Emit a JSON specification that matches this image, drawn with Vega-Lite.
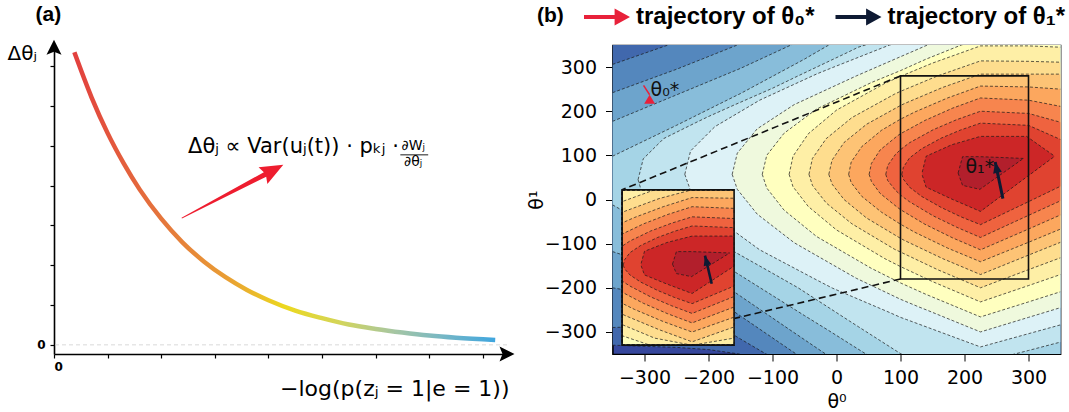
{
  "$schema": "https://vega.github.io/schema/vega-lite/v6.json",
  "background": "white",
  "padding": {"left": 7, "top": 3, "right": 2, "bottom": 2},
  "autosize": {"type": "pad"},
  "bounds": "flush",
  "spacing": 105.5,
  "config": {
    "view": {"stroke": null},
    "axis": {"grid": false, "domainColor": "black", "tickColor": "black", "labelColor": "black", "titleColor": "black", "labelFont": "DejaVu Sans", "titleFont": "DejaVu Sans"},
    "title": {"color": "black"}
  },
  "datasets": {
    "curve": [
      {"x": 0.38, "y": 7.35}, {"x": 0.7, "y": 6.22}, {"x": 1.0, "y": 5.32}, {"x": 1.3, "y": 4.56},
      {"x": 1.6, "y": 3.90}, {"x": 2.0, "y": 3.17}, {"x": 2.4, "y": 2.57}, {"x": 2.8, "y": 2.09},
      {"x": 3.2, "y": 1.70}, {"x": 3.6, "y": 1.38}, {"x": 4.0, "y": 1.12}, {"x": 4.5, "y": 0.86},
      {"x": 5.0, "y": 0.67}, {"x": 5.5, "y": 0.51}, {"x": 6.0, "y": 0.40}, {"x": 6.5, "y": 0.31},
      {"x": 7.0, "y": 0.235}, {"x": 7.5, "y": 0.18}, {"x": 8.23, "y": 0.124}
    ],
    "traj1": [{"x": 260, "y": 2}, {"x": 254, "y": 44}, {"x": 248, "y": 85}],
    "bands": [
      {"k": "L01", "x": -350, "lo": -330, "hi": 600},
      {"k": "L01", "x": -250, "lo": -335, "hi": 600},
      {"k": "L01", "x": -200, "lo": -340, "hi": 600},
      {"k": "L01", "x": -152, "lo": -350, "hi": 600},
      {"k": "L01", "x": -100, "lo": -380, "hi": 600},
      {"k": "L01", "x": 350, "lo": -500, "hi": 600},
      {"k": "L02", "x": -350, "lo": -290, "hi": 306},
      {"k": "L02", "x": -263, "lo": -286, "hi": 350},
      {"k": "L02", "x": -250, "lo": -285, "hi": 357},
      {"k": "L02", "x": -180, "lo": -290, "hi": 394},
      {"k": "L02", "x": -150, "lo": -316, "hi": 410},
      {"k": "L02", "x": -110, "lo": -350, "hi": 420},
      {"k": "L02", "x": 0, "lo": -430, "hi": 449},
      {"k": "L02", "x": 350, "lo": -500, "hi": 540},
      {"k": "L03", "x": -350, "lo": -200, "hi": 242},
      {"k": "L03", "x": -250, "lo": -225, "hi": 295},
      {"k": "L03", "x": -160, "lo": -254, "hi": 347},
      {"k": "L03", "x": -155, "lo": -259, "hi": 350},
      {"k": "L03", "x": -63, "lo": -350, "hi": 397.5},
      {"k": "L03", "x": 0, "lo": -389, "hi": 430},
      {"k": "L03", "x": 50, "lo": -420, "hi": 443},
      {"k": "L03", "x": 350, "lo": -500, "hi": 520},
      {"k": "L04", "x": -350, "lo": -118, "hi": 177},
      {"k": "L04", "x": -250, "lo": -165, "hi": 237},
      {"k": "L04", "x": -160, "lo": -209, "hi": 291},
      {"k": "L04", "x": -150, "lo": -219, "hi": 297},
      {"k": "L04", "x": -71, "lo": -297, "hi": 350},
      {"k": "L04", "x": -17, "lo": -350, "hi": 388},
      {"k": "L04", "x": 0, "lo": -360, "hi": 400},
      {"k": "L04", "x": 100, "lo": -420, "hi": 429},
      {"k": "L04", "x": 350, "lo": -480, "hi": 500},
      {"k": "L05", "x": -350, "lo": -12, "hi": 98},
      {"k": "L05", "x": -250, "lo": -95, "hi": 168},
      {"k": "L05", "x": -160, "lo": -163, "hi": 233},
      {"k": "L05", "x": -150, "lo": -172, "hi": 240},
      {"k": "L05", "x": -50, "lo": -263, "hi": 318},
      {"k": "L05", "x": -12, "lo": -297, "hi": 350},
      {"k": "L05", "x": 46, "lo": -350, "hi": 386},
      {"k": "L05", "x": 100, "lo": -386, "hi": 420},
      {"k": "L05", "x": 150, "lo": -420, "hi": 440},
      {"k": "L05", "x": 350, "lo": -450, "hi": 520},
      {"k": "L06", "x": -310, "lo": 45, "hi": 45},
      {"k": "L06", "x": -302, "lo": 5, "hi": 92},
      {"k": "L06", "x": -270, "lo": -45, "hi": 138},
      {"k": "L06", "x": -220, "lo": -85, "hi": 174},
      {"k": "L06", "x": -200, "lo": -96, "hi": 188},
      {"k": "L06", "x": -160, "lo": -118, "hi": 214},
      {"k": "L06", "x": -100, "lo": -167, "hi": 252},
      {"k": "L06", "x": -60, "lo": -200, "hi": 280},
      {"k": "L06", "x": 20, "lo": -275, "hi": 335},
      {"k": "L06", "x": 34, "lo": -288, "hi": 345},
      {"k": "L06", "x": 101, "lo": -350, "hi": 375},
      {"k": "L06", "x": 160, "lo": -366, "hi": 402},
      {"k": "L06", "x": 200, "lo": -370, "hi": 420},
      {"k": "L06", "x": 220, "lo": -372, "hi": 423},
      {"k": "L06", "x": 300, "lo": -342, "hi": 433},
      {"k": "L06", "x": 350, "lo": -323, "hi": 440},
      {"k": "L07", "x": -237, "lo": 57, "hi": 57},
      {"k": "L07", "x": -228, "lo": 20, "hi": 110},
      {"k": "L07", "x": -190, "lo": -40, "hi": 165},
      {"k": "L07", "x": -120, "lo": -114, "hi": 225},
      {"k": "L07", "x": -30, "lo": -183, "hi": 285},
      {"k": "L07", "x": -6, "lo": -201, "hi": 299},
      {"k": "L07", "x": 83, "lo": -256, "hi": 350},
      {"k": "L07", "x": 100, "lo": -267, "hi": 356},
      {"k": "L07", "x": 109.5, "lo": -272, "hi": 359},
      {"k": "L07", "x": 225, "lo": -334, "hi": 400},
      {"k": "L07", "x": 300, "lo": -304, "hi": 406},
      {"k": "L07", "x": 350, "lo": -284, "hi": 410},
      {"k": "L08", "x": -163, "lo": 57, "hi": 57},
      {"k": "L08", "x": -155, "lo": 23, "hi": 105},
      {"k": "L08", "x": -124, "lo": -33, "hi": 160},
      {"k": "L08", "x": -66, "lo": -98, "hi": 215},
      {"k": "L08", "x": 31, "lo": -178.5, "hi": 280},
      {"k": "L08", "x": 100, "lo": -226, "hi": 323.5},
      {"k": "L08", "x": 128, "lo": -243, "hi": 341},
      {"k": "L08", "x": 142, "lo": -251, "hi": 350},
      {"k": "L08", "x": 225, "lo": -300, "hi": 380},
      {"k": "L08", "x": 300, "lo": -267, "hi": 380},
      {"k": "L08", "x": 350, "lo": -245, "hi": 380},
      {"k": "L09", "x": -116, "lo": 57, "hi": 57},
      {"k": "L09", "x": -109, "lo": 26, "hi": 100},
      {"k": "L09", "x": -82, "lo": -24, "hi": 150},
      {"k": "L09", "x": -31, "lo": -84, "hi": 205},
      {"k": "L09", "x": 54.5, "lo": -156, "hi": 265},
      {"k": "L09", "x": 100, "lo": -189, "hi": 292},
      {"k": "L09", "x": 140, "lo": -215, "hi": 318},
      {"k": "L09", "x": 195, "lo": -248, "hi": 350},
      {"k": "L09", "x": 225, "lo": -266, "hi": 362},
      {"k": "L09", "x": 300, "lo": -232, "hi": 362},
      {"k": "L09", "x": 350, "lo": -209, "hi": 360},
      {"k": "L10", "x": -74, "lo": 57, "hi": 57},
      {"k": "L10", "x": -68, "lo": 29, "hi": 98},
      {"k": "L10", "x": -44, "lo": -16, "hi": 149},
      {"k": "L10", "x": 0, "lo": -69, "hi": 202.5},
      {"k": "L10", "x": 75.5, "lo": -134, "hi": 263},
      {"k": "L10", "x": 100, "lo": -152, "hi": 279},
      {"k": "L10", "x": 150, "lo": -186, "hi": 309},
      {"k": "L10", "x": 225, "lo": -232, "hi": 348},
      {"k": "L10", "x": 300, "lo": -195, "hi": 348},
      {"k": "L10", "x": 350, "lo": -170, "hi": 345},
      {"k": "L11", "x": -43, "lo": 57, "hi": 57},
      {"k": "L11", "x": -37.6, "lo": 32, "hi": 93},
      {"k": "L11", "x": -16, "lo": -8, "hi": 138},
      {"k": "L11", "x": 24, "lo": -55, "hi": 185.5},
      {"k": "L11", "x": 91, "lo": -113, "hi": 239},
      {"k": "L11", "x": 100, "lo": -119, "hi": 245},
      {"k": "L11", "x": 158, "lo": -159, "hi": 280},
      {"k": "L11", "x": 225, "lo": -200, "hi": 314},
      {"k": "L11", "x": 300, "lo": -159, "hi": 313},
      {"k": "L11", "x": 350, "lo": -132, "hi": 311},
      {"k": "L12", "x": -12, "lo": 57, "hi": 57},
      {"k": "L12", "x": -7, "lo": 35, "hi": 89},
      {"k": "L12", "x": 11.7, "lo": 0, "hi": 129},
      {"k": "L12", "x": 47, "lo": -42, "hi": 170.5},
      {"k": "L12", "x": 100, "lo": -88, "hi": 213},
      {"k": "L12", "x": 106.5, "lo": -93, "hi": 217.5},
      {"k": "L12", "x": 166, "lo": -134, "hi": 254},
      {"k": "L12", "x": 225, "lo": -170, "hi": 284},
      {"k": "L12", "x": 300, "lo": -126, "hi": 284},
      {"k": "L12", "x": 350, "lo": -97, "hi": 284},
      {"k": "L13", "x": 19, "lo": 57, "hi": 57},
      {"k": "L13", "x": 23, "lo": 38, "hi": 85},
      {"k": "L13", "x": 39.6, "lo": 7, "hi": 120},
      {"k": "L13", "x": 70.5, "lo": -29, "hi": 157},
      {"k": "L13", "x": 100, "lo": -56, "hi": 182},
      {"k": "L13", "x": 122, "lo": -74, "hi": 198},
      {"k": "L13", "x": 173.5, "lo": -110, "hi": 230},
      {"k": "L13", "x": 225, "lo": -141, "hi": 257},
      {"k": "L13", "x": 300, "lo": -97, "hi": 255},
      {"k": "L13", "x": 350, "lo": -67, "hi": 250},
      {"k": "L14", "x": 51, "lo": 57, "hi": 57},
      {"k": "L14", "x": 54.5, "lo": 41, "hi": 81.5},
      {"k": "L14", "x": 68, "lo": 14, "hi": 112},
      {"k": "L14", "x": 94.5, "lo": -17, "hi": 143.5},
      {"k": "L14", "x": 100, "lo": -23, "hi": 149},
      {"k": "L14", "x": 138, "lo": -56, "hi": 179},
      {"k": "L14", "x": 181.5, "lo": -87, "hi": 207},
      {"k": "L14", "x": 225, "lo": -114, "hi": 230},
      {"k": "L14", "x": 300, "lo": -67, "hi": 225},
      {"k": "L14", "x": 350, "lo": -35, "hi": 211},
      {"k": "L15", "x": 77, "lo": 57, "hi": 57},
      {"k": "L15", "x": 80, "lo": 43, "hi": 77},
      {"k": "L15", "x": 92, "lo": 21, "hi": 102},
      {"k": "L15", "x": 100, "lo": 10, "hi": 113},
      {"k": "L15", "x": 114, "lo": -5, "hi": 128.5},
      {"k": "L15", "x": 151, "lo": -37, "hi": 158},
      {"k": "L15", "x": 188, "lo": -63, "hi": 181},
      {"k": "L15", "x": 225, "lo": -86, "hi": 200},
      {"k": "L15", "x": 300, "lo": -36, "hi": 195},
      {"k": "L15", "x": 350, "lo": -3, "hi": 175},
      {"k": "L16", "x": 102, "lo": 57, "hi": 57},
      {"k": "L16", "x": 104.5, "lo": 46, "hi": 73},
      {"k": "L16", "x": 114, "lo": 28, "hi": 94},
      {"k": "L16", "x": 133, "lo": 7, "hi": 115},
      {"k": "L16", "x": 163.5, "lo": -18, "hi": 139},
      {"k": "L16", "x": 194, "lo": -39, "hi": 157.5},
      {"k": "L16", "x": 225, "lo": -57, "hi": 173},
      {"k": "L16", "x": 300, "lo": -5, "hi": 168},
      {"k": "L16", "x": 350, "lo": 30, "hi": 136},
      {"k": "L17", "x": 134, "lo": 55, "hi": 62},
      {"k": "L17", "x": 140, "lo": 28, "hi": 98},
      {"k": "L17", "x": 180, "lo": 1, "hi": 124},
      {"k": "L17", "x": 225, "lo": -27, "hi": 143},
      {"k": "L17", "x": 297, "lo": 51, "hi": 143},
      {"k": "L17", "x": 300, "lo": 54, "hi": 140},
      {"k": "L17", "x": 341, "lo": 98, "hi": 98},
      {"k": "L18", "x": 190, "lo": 60, "hi": 60},
      {"k": "L18", "x": 197, "lo": 32, "hi": 97},
      {"k": "L18", "x": 224, "lo": 23, "hi": 97},
      {"k": "L18", "x": 260, "lo": 60, "hi": 95},
      {"k": "L18", "x": 292, "lo": 93, "hi": 93}
    ]
  },
  "hconcat": [
    {
      "width": 453,
      "height": 309,
      "title": {"text": "(a)", "anchor": "start", "frame": "group", "dx": -18.5, "offset": 15, "font": "Liberation Sans", "fontSize": 21, "fontWeight": "bold", "color": "black"},
      "layer": [
        {
          "data": {"name": "curve"},
          "mark": {"type": "line", "interpolate": "monotone", "strokeWidth": 4.5, "strokeCap": "butt",
            "color": {"gradient": "linear", "stops": [
              {"offset": 0, "color": "#e2403e"}, {"offset": 0.22, "color": "#e5793c"},
              {"offset": 0.36, "color": "#e99d34"}, {"offset": 0.5, "color": "#ecd81f"},
              {"offset": 0.63, "color": "#d3d55a"}, {"offset": 0.76, "color": "#a6c6a3"},
              {"offset": 0.88, "color": "#74b6c6"}, {"offset": 1, "color": "#3fa6df"}]}},
          "encoding": {
            "x": {"field": "x", "type": "quantitative", "scale": {"domain": [0, 8.45], "nice": false, "zero": false},
              "axis": {"values": [0, 1, 2, 3, 4, 5, 6, 7, 8], "labelExpr": "datum.value === 0 ? '0' : ''", "labelFontWeight": "bold", "labelFontSize": 12, "labelPadding": 3, "tickSize": 4, "tickWidth": 1.2, "domainWidth": 1.6,
                "title": "−log(p(zⱼ = 1|e = 1))", "titleFontSize": 22, "titleFontWeight": "normal", "titleAlign": "right", "titleAnchor": "end", "titleX": 455, "titleY": 41, "titleBaseline": "alphabetic"}},
            "y": {"field": "y", "type": "quantitative", "scale": {"domain": [-0.23, 7.534], "nice": false, "zero": false},
              "axis": {"values": [0, 1, 2, 3, 4, 5, 6, 7], "labelExpr": "datum.value === 0 ? '0' : ''", "labelFontWeight": "bold", "labelFontSize": 12, "labelPadding": 5, "tickSize": 4, "tickWidth": 1.2, "domainWidth": 1.6,
                "title": "Δθⱼ", "titleAngle": 0, "titleFontSize": 20, "titleFontWeight": "normal", "titleAlign": "left", "titleBaseline": "alphabetic", "titleX": -47, "titleY": 14}}
          }
        },
        {
          "data": {"values": [{}]},
          "mark": {"type": "rule", "color": "#cfcfcf", "strokeWidth": 0.8, "strokeDash": [4, 3]},
          "encoding": {"y": {"datum": 0, "type": "quantitative"}}
        },
        {
          "data": {"values": [{}]},
          "mark": {"type": "point", "filled": true, "color": "#ee1d2f", "opacity": 1, "size": 13156, "angle": 332.3, "strokeWidth": 0,
            "shape": "M-1,-0.009L0.64,-0.044L0.6,-0.165L1,0L0.6,0.165L0.64,0.044L-1,0.009Z"},
          "encoding": {"x": {"datum": 3.33, "type": "quantitative"}, "y": {"datum": 3.853, "type": "quantitative"}}
        },
        {
          "data": {"values": [{}]},
          "mark": {"type": "text", "text": "Δθⱼ ∝ Var(uⱼ(t)) · pₖⱼ ·", "align": "left", "baseline": "alphabetic", "font": "DejaVu Sans", "fontSize": 21, "color": "black"},
          "encoding": {"x": {"datum": 2.5, "type": "quantitative"}, "y": {"datum": 4.824, "type": "quantitative"}}
        },
        {
          "data": {"values": [{}]},
          "mark": {"type": "text", "text": "∂Wⱼ", "align": "center", "baseline": "alphabetic", "font": "DejaVu Sans", "fontSize": 14, "color": "black"},
          "encoding": {"x": {"datum": 6.7, "type": "quantitative"}, "y": {"datum": 4.899, "type": "quantitative"}}
        },
        {
          "data": {"values": [{}]},
          "mark": {"type": "text", "text": "∂θⱼ", "align": "center", "baseline": "alphabetic", "font": "DejaVu Sans", "fontSize": 14, "color": "black"},
          "encoding": {"x": {"datum": 6.7, "type": "quantitative"}, "y": {"datum": 4.497, "type": "quantitative"}}
        },
        {
          "data": {"values": [{}]},
          "mark": {"type": "rule", "color": "black", "strokeWidth": 0.9},
          "encoding": {"x": {"datum": 6.46, "type": "quantitative"}, "x2": {"datum": 6.98}, "y": {"datum": 4.774, "type": "quantitative"}}
        },
        {
          "data": {"values": [{}]},
          "mark": {"type": "point", "filled": true, "color": "black", "opacity": 1, "size": 225, "strokeWidth": 0, "clip": false, "shape": "M0,-1L1,1L0,0.6L-1,1Z"},
          "encoding": {"x": {"datum": 0, "type": "quantitative"}, "y": {"datum": 7.475, "type": "quantitative"}}
        },
        {
          "data": {"values": [{}]},
          "mark": {"type": "point", "filled": true, "color": "black", "opacity": 1, "size": 225, "strokeWidth": 0, "clip": false, "shape": "M1,0L-1,1L-0.6,0L-1,-1Z"},
          "encoding": {"x": {"datum": 8.45, "type": "quantitative"}, "y": {"datum": -0.23, "type": "quantitative"}}
        }
      ]
    },
    {
      "width": 448,
      "height": 309,
      "title": {"text": "(b)", "anchor": "start", "frame": "group", "dx": -75.5, "offset": 19, "font": "Liberation Sans", "fontSize": 21, "fontWeight": "bold", "color": "black"},
      "view": {"fill": "#36479d", "stroke": "black", "strokeWidth": 1.2},
      "resolve": {"scale": {"x": "independent", "y": "independent"}},
      "layer": [
        {
          "layer": [
            {
              "data": {"name": "bands"},
              "mark": {"type": "area", "clip": true},
              "encoding": {
                "x": {"field": "x", "type": "quantitative", "scale": {"domain": [-350, 350], "nice": false, "zero": false},
                  "axis": {"values": [-300, -200, -100, 0, 100, 200, 300], "format": "d", "labelFontSize": 19, "tickSize": 7, "labelPadding": 7.5,
                    "title": "θ⁰", "titleFontSize": 19, "titleFontWeight": "normal", "titleX": 224, "titleY": 53, "titleAlign": "center", "titleBaseline": "alphabetic"}},
                "y": {"field": "lo", "type": "quantitative", "scale": {"domain": [-350, 350], "nice": false, "zero": false},
                  "axis": {"values": [-300, -200, -100, 0, 100, 200, 300], "format": "d", "labelFontSize": 19, "tickSize": 7, "labelPadding": 9,
                    "title": "θ¹", "titleFontSize": 19, "titleFontWeight": "normal", "titleAngle": 270, "titleX": -70.5, "titleY": 154.5, "titleAlign": "center", "titleBaseline": "alphabetic"}},
                "y2": {"field": "hi"},
                "fill": {"field": "k", "type": "nominal", "legend": null,
                  "scale": {"domain": ["L01", "L02", "L03", "L04", "L05", "L06", "L07", "L08", "L09", "L10", "L11", "L12", "L13", "L14", "L15", "L16", "L17", "L18"],
                    "range": ["#4168ad", "#5487bd", "#6da4cc", "#88bdda", "#a5d4e6", "#c1e4ef", "#ddf2f7", "#eff9dd", "#ffffbf", "#feefa6", "#fedd8e", "#fdc375", "#fca75e", "#f7854e", "#ef633f", "#e04330", "#cc2627", "#b21f2c"]}}
              }
            },
            {
              "data": {"name": "bands"},
              "mark": {"type": "line", "clip": true, "color": "#1a1a1a", "strokeWidth": 0.7, "strokeDash": [3, 2]},
              "encoding": {"x": {"field": "x", "type": "quantitative"}, "y": {"field": "hi", "type": "quantitative"}, "detail": {"field": "k"}}
            },
            {
              "data": {"name": "bands"},
              "mark": {"type": "line", "clip": true, "color": "#1a1a1a", "strokeWidth": 0.7, "strokeDash": [3, 2]},
              "encoding": {"x": {"field": "x", "type": "quantitative"}, "y": {"field": "lo", "type": "quantitative"}, "detail": {"field": "k"}}
            },
            {
              "data": {"values": [{}]},
              "mark": {"type": "rect", "filled": false, "stroke": "#111111", "strokeWidth": 1.6},
              "encoding": {"x": {"datum": 100, "type": "quantitative"}, "x2": {"datum": 300}, "y": {"datum": -180, "type": "quantitative"}, "y2": {"datum": 280}}
            },
            {
              "data": {"values": [{}]},
              "mark": {"type": "rule", "color": "#111111", "strokeWidth": 1.6, "strokeDash": [7, 4]},
              "encoding": {"x": {"datum": 100, "type": "quantitative"}, "y": {"datum": 280, "type": "quantitative"}, "x2": {"datum": -335}, "y2": {"datum": 22}}
            },
            {
              "data": {"values": [{}]},
              "mark": {"type": "rule", "color": "#111111", "strokeWidth": 1.6, "strokeDash": [7, 4]},
              "encoding": {"x": {"datum": 100, "type": "quantitative"}, "y": {"datum": -180, "type": "quantitative"}, "x2": {"datum": -335}, "y2": {"datum": -330}}
            }
          ]
        },
        {
          "layer": [
            {
              "data": {"name": "bands"},
              "mark": {"type": "area"},
              "encoding": {
                "x": {"field": "x", "type": "quantitative", "scale": {"domain": [100, 300], "range": [9.6, 121.6], "clamp": true, "nice": false, "zero": false}, "axis": null},
                "y": {"field": "lo", "type": "quantitative", "scale": {"domain": [-180, 280], "range": [300.2, 144.8], "clamp": true, "nice": false, "zero": false}, "axis": null},
                "y2": {"field": "hi"},
                "fill": {"field": "k", "type": "nominal", "legend": null}
              }
            },
            {
              "data": {"name": "bands"},
              "mark": {"type": "line", "color": "#1a1a1a", "strokeWidth": 0.7, "strokeDash": [3, 2]},
              "encoding": {"x": {"field": "x", "type": "quantitative"}, "y": {"field": "hi", "type": "quantitative"}, "detail": {"field": "k"}}
            },
            {
              "data": {"name": "bands"},
              "mark": {"type": "line", "color": "#1a1a1a", "strokeWidth": 0.7, "strokeDash": [3, 2]},
              "encoding": {"x": {"field": "x", "type": "quantitative"}, "y": {"field": "lo", "type": "quantitative"}, "detail": {"field": "k"}}
            },
            {
              "data": {"name": "traj1"},
              "mark": {"type": "line", "color": "#0e1a33", "strokeWidth": 2.6},
              "encoding": {"x": {"field": "x", "type": "quantitative"}, "y": {"field": "y", "type": "quantitative"}}
            },
            {
              "data": {"values": [{"x": 248, "y": 85}]},
              "mark": {"type": "point", "filled": true, "color": "#0e1a33", "opacity": 1, "size": 250, "strokeWidth": 0, "angle": 345, "shape": "M0,0L0.5,1.25L-0.5,1.25Z"},
              "encoding": {"x": {"field": "x", "type": "quantitative"}, "y": {"field": "y", "type": "quantitative"}}
            }
          ]
        },
        {
          "layer": [
            {
              "data": {"values": [{}]},
              "mark": {"type": "rect", "filled": false, "stroke": "#111111", "strokeWidth": 1.6},
              "encoding": {
                "x": {"datum": -335, "type": "quantitative", "scale": {"domain": [-350, 350], "nice": false, "zero": false}, "axis": null},
                "x2": {"datum": -160},
                "y": {"datum": -330, "type": "quantitative", "scale": {"domain": [-350, 350], "nice": false, "zero": false}, "axis": null},
                "y2": {"datum": 22}
              }
            },
            {
              "data": {"values": [{"x": -301.5, "y": 258.5}, {"x": -292, "y": 237.3}]},
              "mark": {"type": "line", "color": "#e8213a", "strokeWidth": 1.5},
              "encoding": {"x": {"field": "x", "type": "quantitative"}, "y": {"field": "y", "type": "quantitative"}}
            },
            {
              "data": {"name": "traj1"},
              "mark": {"type": "line", "color": "#0e1a33", "strokeWidth": 3},
              "encoding": {"x": {"field": "x", "type": "quantitative"}, "y": {"field": "y", "type": "quantitative"}}
            },
            {
              "data": {"values": [{"s": "θ₀*", "x": -292, "y": 237.3}]},
              "mark": {"type": "point", "filled": true, "opacity": 1, "size": 330, "strokeWidth": 0, "angle": 0, "shape": "M0,0L0.6,1.0L-0.6,1.0Z"},
              "encoding": {
                "x": {"field": "x", "type": "quantitative"}, "y": {"field": "y", "type": "quantitative"},
                "color": {"field": "s", "type": "nominal", "scale": {"domain": ["θ₀*", "θ₁*"], "range": ["#e8213a", "#0e1a33"]},
                  "legend": {"title": null, "orient": "none", "legendX": 541, "legendY": -40, "direction": "horizontal", "padding": 0,
                    "symbolType": "M-2.875,-0.24L0.95,-0.24L0.95,-1.06L2.875,0L0.95,1.06L0.95,0.24L-2.875,0.24Z", "symbolSize": 256, "symbolStrokeWidth": 0, "symbolOpacity": 1,
                    "labelFont": "Liberation Sans", "labelFontWeight": "bold", "labelFontSize": 24, "labelColor": "black", "labelOffset": 17, "columnPadding": 20.5, "labelLimit": 400,
                    "labelExpr": "'trajectory of ' + datum.label"}}
              }
            },
            {
              "data": {"values": [{"s": "θ₁*", "x": 248, "y": 85}]},
              "mark": {"type": "point", "filled": true, "opacity": 1, "size": 310, "strokeWidth": 0, "angle": 348, "shape": "M0,0L0.5,1.25L-0.5,1.25Z"},
              "encoding": {
                "x": {"field": "x", "type": "quantitative"}, "y": {"field": "y", "type": "quantitative"},
                "color": {"field": "s", "type": "nominal"}
              }
            },
            {
              "data": {"values": [{}]},
              "mark": {"type": "text", "text": "θ₀*", "font": "DejaVu Sans", "fontSize": 19, "color": "#111111", "align": "center", "baseline": "middle"},
              "encoding": {"x": {"datum": -268, "type": "quantitative"}, "y": {"datum": 248, "type": "quantitative"}}
            },
            {
              "data": {"values": [{}]},
              "mark": {"type": "text", "text": "θ₁*", "font": "DejaVu Sans", "fontSize": 19, "color": "#111111", "align": "center", "baseline": "middle"},
              "encoding": {"x": {"datum": 224, "type": "quantitative"}, "y": {"datum": 73.6, "type": "quantitative"}}
            }
          ]
        }
      ]
    }
  ]
}
